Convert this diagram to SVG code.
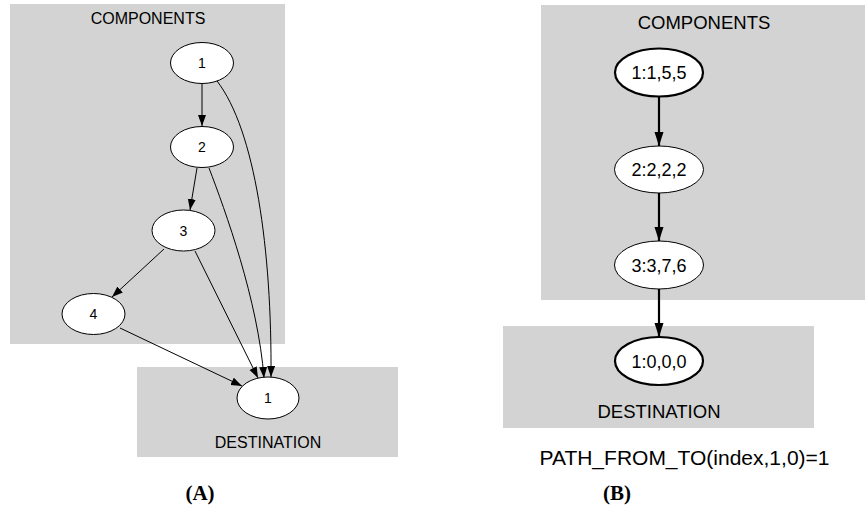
<svg xmlns="http://www.w3.org/2000/svg" width="865" height="518" viewBox="0 0 865 518">
<style>
.cl{fill:#d3d3d3;stroke:none}
.n{fill:#fff;stroke:#000;stroke-width:1}
.nb{fill:#fff;stroke:#000;stroke-width:2.2}
.t{font-family:"Liberation Sans",Arial,sans-serif;fill:#000;text-anchor:middle}
.e{fill:none;stroke:#000;stroke-width:1;marker-end:url(#a)}
.eb{fill:none;stroke:#000;stroke-width:2.2;marker-end:url(#b)}
.cap{font-family:"Liberation Serif","Times New Roman",serif;font-weight:bold;font-size:21px;text-anchor:middle}
</style>
<defs>
<marker id="a" markerUnits="userSpaceOnUse" markerWidth="12" markerHeight="9" refX="11" refY="4" orient="auto"><path d="M0,0 L11,4 L0,8 z" fill="#000"/></marker>
<marker id="b" markerUnits="userSpaceOnUse" markerWidth="15" markerHeight="10" refX="14" refY="4.5" orient="auto"><path d="M0,0 L14,4.5 L0,9 z" fill="#000"/></marker>
</defs>
<g id="clusterA-components"><rect class="cl" x="10" y="4" width="275" height="340"/><text class="t" x="148" y="24" font-size="16">COMPONENTS</text></g>
<g id="clusterA-destination"><rect class="cl" x="137" y="367" width="261" height="90"/><text class="t" x="268" y="448" font-size="16">DESTINATION</text></g>
<g id="clusterB-components"><rect class="cl" x="541" y="5" width="324" height="295"/><text class="t" x="704" y="29" font-size="18.5">COMPONENTS</text></g>
<g id="clusterB-destination"><rect class="cl" x="503" y="326" width="311" height="102"/><text class="t" x="659" y="418" font-size="18.5">DESTINATION</text></g>
<g id="connectors">
<path class="e" d="M202,84 L202,126"/>
<path class="e" d="M217,81 C255,130 272,250 271,377"/>
<path class="e" d="M209,168 C225,210 258,300 264,378"/>
<path class="e" d="M197,168 L190,210"/>
<path class="e" d="M164,249 L112,297"/>
<path class="e" d="M195,251 L258,378"/>
<path class="e" d="M120,328 L242,386"/>
<path class="eb" d="M659,97 L659,146"/>
<path class="eb" d="M659,193 L659,241"/>
<path class="eb" d="M659,289 L659,337"/>
</g>
<g id="a1"><ellipse class="n" cx="202" cy="63" rx="31.5" ry="20.5"/><text class="t" x="202" y="68" font-size="14">1</text></g>
<g id="a2"><ellipse class="n" cx="202" cy="147" rx="31.5" ry="20.5"/><text class="t" x="202" y="152" font-size="14">2</text></g>
<g id="a3"><ellipse class="n" cx="183.5" cy="230.5" rx="31.5" ry="20.5"/><text class="t" x="183.5" y="235.5" font-size="14">3</text></g>
<g id="a4"><ellipse class="n" cx="93.5" cy="314" rx="31.5" ry="20.5"/><text class="t" x="93.5" y="319" font-size="14">4</text></g>
<g id="a-dest1"><ellipse class="n" cx="268" cy="398" rx="31" ry="21"/><text class="t" x="268" y="403" font-size="14">1</text></g>
<g id="b1"><ellipse class="nb" cx="659" cy="72.5" rx="44" ry="24"/><text class="t" x="659" y="79" font-size="18">1:1,5,5</text></g>
<g id="b2"><ellipse class="n" cx="659" cy="169.5" rx="44.5" ry="23.5"/><text class="t" x="659" y="176" font-size="18">2:2,2,2</text></g>
<g id="b3"><ellipse class="n" cx="659" cy="265" rx="44.5" ry="24"/><text class="t" x="659" y="271.5" font-size="18">3:3,7,6</text></g>
<g id="b-dest1"><ellipse class="nb" cx="659" cy="361" rx="44" ry="24"/><text class="t" x="659" y="367.5" font-size="18">1:0,0,0</text></g>
<text class="t" x="684.5" y="465" font-size="21">PATH_FROM_TO(index,1,0)=1</text>
<text class="cap" x="200" y="500">(A)</text>
<text class="cap" x="617" y="500">(B)</text>
</svg>
